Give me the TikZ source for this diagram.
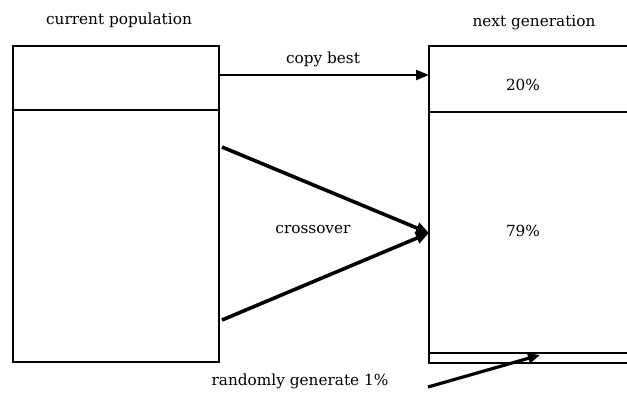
\documentclass[tikz,border=0pt]{standalone}
\usepackage{fontspec}
\setmainfont{DejaVu Serif}
\usetikzlibrary{arrows.meta}
\begin{document}
\begin{tikzpicture}[x=1pt,y=-1pt,
  boxline/.style={line width=2pt},
  lbl/.style={font=\fontsize{15.3}{17}\selectfont, inner sep=0pt},
  thinarrow/.style={line width=2.2pt,-{Triangle[length=13pt,width=10pt]}},
  thickarrow/.style={line width=3.6pt,-{Triangle[length=13pt,width=11pt]}}]
\useasboundingbox[fill=white] (0,0) rectangle (627,392);
% left box
\node[boxline,draw,minimum width=206pt,minimum height=316pt,inner sep=0pt,anchor=north west] (cur) at (12,45) {};
\coordinate (curdivL) at (12,110);
\coordinate (curdivR) at (218,110);
\draw[boxline] (curdivL) -- (curdivR);
% right box (open on right)
\coordinate (nTL) at (429,46);
\coordinate (nTR) at (627,46);
\coordinate (nBL) at (429,363);
\coordinate (nBR) at (627,363);
\coordinate (nD1L) at (429,112);
\coordinate (nD1R) at (627,112);
\coordinate (nD2L) at (429,353);
\coordinate (nD2R) at (627,353);
\draw[boxline] (nTR) -- (nTL) -- (nBL) -- (nBR);
\draw[boxline] (nD1L) -- (nD1R);
\draw[boxline] (nD2L) -- (nD2R);
% labels
\node[lbl] (t1) at (119,20) {current population};
\node[lbl] (t2) at (534,23) {next generation};
\node[lbl] (p20) at (523,85) {20\%};
\node[lbl] (p79) at (523,231) {79\%};
\node[lbl] (cb) at (323,59) {copy best};
\node[lbl] (co) at (313,230) {crossover};
\node[lbl] (rg) at (300,381) {randomly generate 1\%};
% arrows
\coordinate (cbS) at (218,75);
\coordinate (cbE) at (429,75);
\draw[thinarrow] (cbS) -- (cbE);
\coordinate (c1S) at (222,147);
\coordinate (c2S) at (222,320);
\coordinate (cE) at (429,233);
\draw[thickarrow] (c1S) -- (cE);
\draw[thickarrow] (c2S) -- (cE);
\coordinate (rS) at (428,387);
\coordinate (rE) at (540,355);
\draw[line width=3.2pt,-{Triangle[length=12pt,width=10pt]}] (rS) -- (rE);
\end{tikzpicture}
\end{document}
